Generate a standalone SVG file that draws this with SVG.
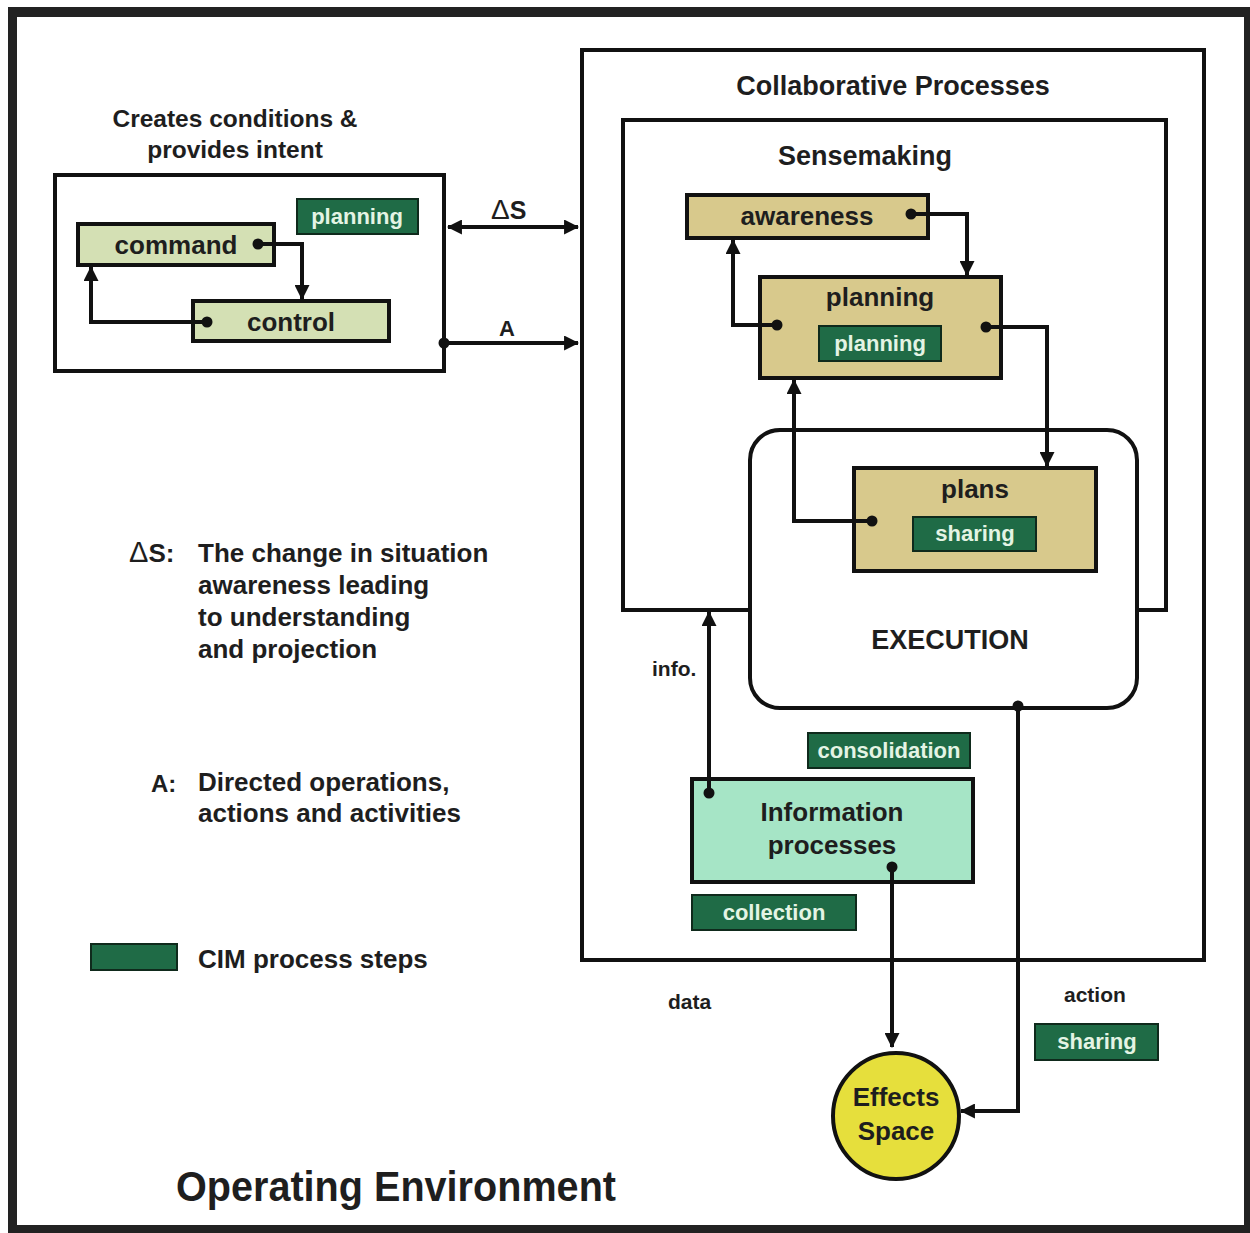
<svg xmlns="http://www.w3.org/2000/svg" width="1250" height="1233" viewBox="0 0 1250 1233">
  <style>
    text { font-family: "Liberation Sans", Arial, sans-serif; font-weight: bold; fill: #1e1e1e; }
    .c { text-anchor: middle; }
    .frame { fill: none; stroke: #111; stroke-width: 4; }
    .tan { fill: #d8c98c; stroke: #111; stroke-width: 4; }
    .olive { fill: #d4e0b4; stroke: #111; stroke-width: 4; }
    .mint { fill: #a6e5c6; stroke: #111; stroke-width: 4; }
    .step { fill: #1f6b46; stroke: #0f2a1c; stroke-width: 2; }
    .steptxt { fill: #e4f4e4; font-size: 22px; text-anchor: middle; }
    .lbl { font-size: 26px; }
    .wire { fill: none; stroke: #111; stroke-width: 4; }
    .dot { fill: #111; }
  </style>
  <defs>
    <marker id="arr" viewBox="0 0 14 14" refX="13" refY="7" markerWidth="15" markerHeight="15" markerUnits="userSpaceOnUse" orient="auto-start-reverse">
      <path d="M0,0 L14,7 L0,14 Z" fill="#111"/>
    </marker>
  </defs>

  <!-- outer frame -->
  <rect x="8" y="7" width="1242" height="1226" fill="#222"/>
  <rect x="17" y="17" width="1227" height="1208" fill="#fff"/>

  <!-- command & control area -->
  <g id="command-area">
    <text class="c" x="235" y="127" font-size="24.5">Creates conditions &amp;</text>
    <text class="c" x="235" y="158" font-size="24.5">provides intent</text>
    <rect class="frame" x="55" y="175" width="389" height="196"/>
  </g>
  <g id="planning-left">
    <rect class="step" x="297" y="199" width="121" height="35"/>
    <text class="steptxt" x="357" y="224">planning</text>
  </g>
  <g id="command">
    <rect class="olive" x="78" y="224" width="196" height="41"/>
    <text class="c lbl" x="176" y="254">command</text>
  </g>
  <g id="control">
    <rect class="olive" x="193" y="301" width="196" height="40"/>
    <text class="c lbl" x="291" y="331">control</text>
  </g>

  <!-- collaborative processes -->
  <g id="collaborative">
    <rect class="frame" x="582" y="50" width="622" height="910"/>
    <text class="c" x="893" y="95" font-size="27">Collaborative Processes</text>
  </g>
  <g id="sensemaking">
    <rect class="frame" x="623" y="120" width="543" height="490"/>
    <text class="c" x="865" y="165" font-size="27">Sensemaking</text>
  </g>
  <g id="execution">
    <rect x="750" y="430" width="387" height="278" rx="30" fill="#fff" stroke="#111" stroke-width="4"/>
    <text class="c" x="950" y="649" font-size="27">EXECUTION</text>
  </g>
  <g id="awareness">
    <rect class="tan" x="687" y="195" width="241" height="43"/>
    <text class="c lbl" x="807" y="225">awareness</text>
  </g>
  <g id="planning">
    <rect class="tan" x="760" y="277" width="241" height="101"/>
    <text class="c lbl" x="880" y="306">planning</text>
    <rect class="step" x="819" y="326" width="122" height="35"/>
    <text class="steptxt" x="880" y="351">planning</text>
  </g>
  <g id="plans">
    <rect class="tan" x="854" y="468" width="242" height="103"/>
    <text class="c lbl" x="975" y="498">plans</text>
    <rect class="step" x="913" y="517" width="123" height="34"/>
    <text class="steptxt" x="975" y="541">sharing</text>
  </g>
  <g id="consolidation">
    <rect class="step" x="808" y="733" width="162" height="35"/>
    <text class="steptxt" x="889" y="758">consolidation</text>
  </g>
  <g id="information">
    <rect class="mint" x="692" y="779" width="281" height="103"/>
    <text class="c lbl" x="832" y="821">Information</text>
    <text class="c lbl" x="832" y="854">processes</text>
  </g>
  <g id="collection">
    <rect class="step" x="692" y="895" width="164" height="35"/>
    <text class="steptxt" x="774" y="920">collection</text>
  </g>
  <g id="sharing-action">
    <rect class="step" x="1035" y="1024" width="123" height="36"/>
    <text class="steptxt" x="1097" y="1049">sharing</text>
  </g>
  <g id="effects">
    <circle cx="896" cy="1116" r="63" fill="#e6df3c" stroke="#111" stroke-width="4"/>
    <text class="c lbl" x="896" y="1106">Effects</text>
    <text class="c lbl" x="896" y="1140">Space</text>
  </g>

  <!-- legend -->
  <g id="legend">
    <text x="129" y="562" font-size="26"><tspan font-weight="normal" font-size="29">Δ</tspan>S:</text>
    <text x="198" y="562" font-size="26">The change in situation</text>
    <text x="198" y="594" font-size="26">awareness leading</text>
    <text x="198" y="626" font-size="26">to understanding</text>
    <text x="198" y="658" font-size="26">and projection</text>
    <text x="151" y="792" font-size="24">A:</text>
    <text x="198" y="791" font-size="26">Directed operations,</text>
    <text x="198" y="822" font-size="26">actions and activities</text>
    <rect class="step" x="91" y="944" width="86" height="26"/>
    <text x="198" y="968" font-size="26">CIM process steps</text>
  </g>

  <text x="176" y="1201" font-size="42" textLength="440" lengthAdjust="spacingAndGlyphs">Operating Environment</text>

  <!-- connectors -->
  <g id="connectors">
    <path class="wire" d="M258,244 H302 V299" marker-end="url(#arr)"/>
    <circle class="dot" cx="258" cy="244" r="5.5"/>
    <path class="wire" d="M207,322 H91 V267" marker-end="url(#arr)"/>
    <circle class="dot" cx="207" cy="322" r="5.5"/>

    <path class="wire" d="M448,227 H578" marker-start="url(#arr)" marker-end="url(#arr)"/>
    <text x="491" y="219" font-size="25"><tspan font-weight="normal" font-size="28">Δ</tspan>S</text>
    <path class="wire" d="M444,343 H578" marker-end="url(#arr)"/>
    <circle class="dot" cx="444" cy="343" r="5.5"/>
    <text x="499" y="336" font-size="22">A</text>

    <path class="wire" d="M911,214 H967 V275" marker-end="url(#arr)"/>
    <circle class="dot" cx="911" cy="214" r="5.5"/>
    <path class="wire" d="M777,325 H733 V240" marker-end="url(#arr)"/>
    <circle class="dot" cx="777" cy="325" r="5.5"/>
    <path class="wire" d="M986,327 H1047 V466" marker-end="url(#arr)"/>
    <circle class="dot" cx="986" cy="327" r="5.5"/>
    <path class="wire" d="M872,521 H794 V380" marker-end="url(#arr)"/>
    <circle class="dot" cx="872" cy="521" r="5.5"/>

    <path class="wire" d="M709,793 V612" marker-end="url(#arr)"/>
    <circle class="dot" cx="709" cy="793" r="5.5"/>
    <text x="652" y="676" font-size="21">info.</text>

    <path class="wire" d="M892,867 V1047" marker-end="url(#arr)"/>
    <circle class="dot" cx="892" cy="867" r="5.5"/>
    <text x="668" y="1009" font-size="21">data</text>

    <path class="wire" d="M1018,706 V1111 H961" marker-end="url(#arr)"/>
    <circle class="dot" cx="1018" cy="706" r="5.5"/>
    <text x="1064" y="1002" font-size="21">action</text>
  </g>
</svg>
